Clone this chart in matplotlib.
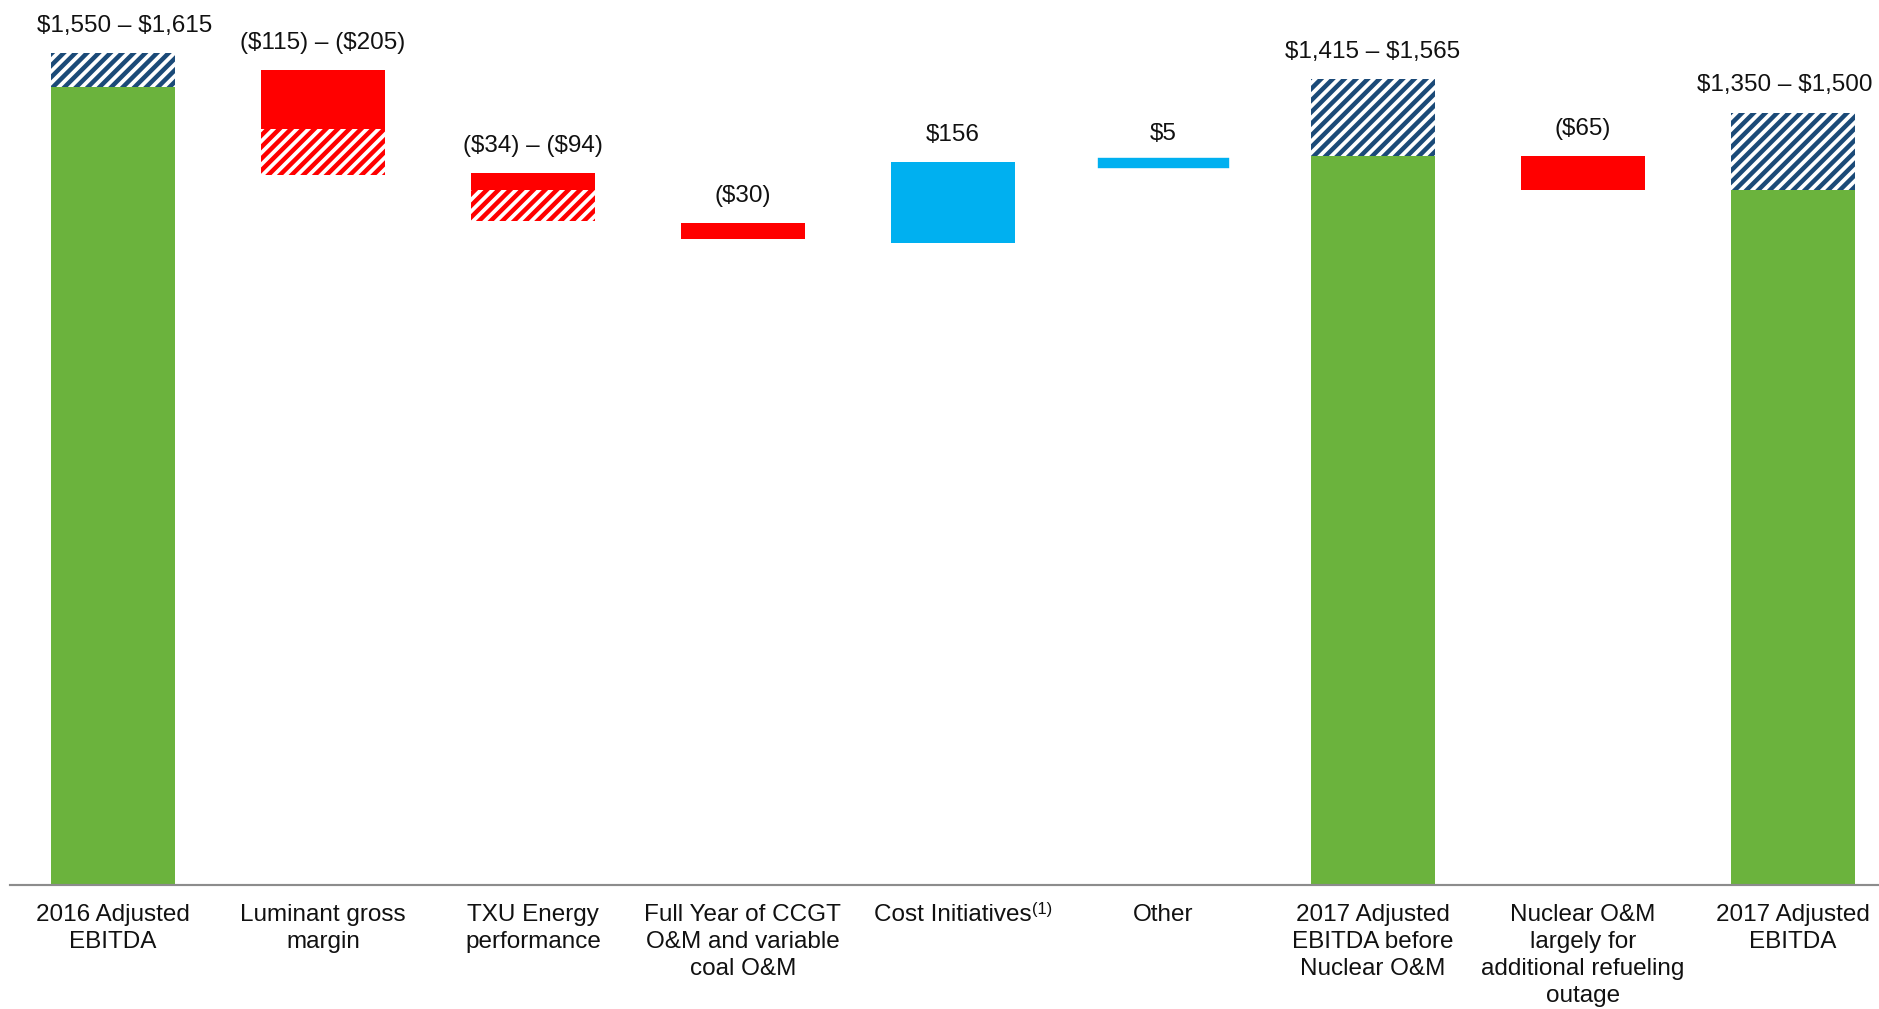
import matplotlib.pyplot as plt

plt.rcParams['font.family'] = ['Liberation Sans', 'DejaVu Sans']
plt.rcParams['hatch.linewidth'] = 2.3

categories = ['2016 Adjusted\nEBITDA', 'Luminant gross\nmargin', 'TXU Energy\nperformance',
              'Full Year of CCGT\nO&M and variable\ncoal O&M', 'Cost Initiatives', 'Other',
              '2017 Adjusted\nEBITDA before\nNuclear O&M',
              'Nuclear O&M\nlargely for\nadditional refueling\noutage',
              '2017 Adjusted\nEBITDA']
footnote_marks = {4: '(1)'}
kinds = ['total', 'down', 'down', 'down', 'up', 'up', 'total', 'down', 'total']
low = [1550, 115, 34, 30, 156, 5, 1415, 65, 1350]
high = [1615, 205, 94, 30, 156, 5, 1565, 65, 1500]
# level a step hangs from: top of a decrease, bottom of an increase
start = [0, 1583, 1383, 1285, 1247, 1400, 0, 1415, 0]

GREEN = '#6BB33D'
RED = '#FF0000'
BLUE = '#00B0F0'
NAVY = '#1B4A78'

fig = plt.figure(figsize=(1879 / 140, 1009 / 140), dpi=140)
ax = fig.add_axes([10 / 1879, 124 / 1009, 1869 / 1879, 885 / 1009])
w = 0.59


def money(v, neg=False):
    s = '\\$' + format(v, ',')
    return '(' + s + ')' if neg else s


# push the outer labels inwards a little
nudge = {0: 6, 8: -4}

for i, kind in enumerate(kinds):
    lo, hi = low[i], high[i]
    if kind == 'total':
        ax.bar(i, lo, width=w, color=GREEN, lw=0)
        ax.bar(i, hi - lo, bottom=lo, width=w, color='white', edgecolor=NAVY, hatch='////', lw=0)
        top = hi
        text = money(lo) + ' – ' + money(hi)
    elif kind == 'down':
        top = start[i]
        ax.bar(i, lo, bottom=top - lo, width=w, color=RED, lw=0)
        if hi > lo:
            ax.bar(i, hi - lo, bottom=top - hi, width=w, color='white', edgecolor=RED,
                   hatch='////', lw=0)
            text = money(lo, True) + ' – ' + money(hi, True)
        else:
            text = money(lo, True)
    else:
        # tiny steps get an outline so they stay visible
        lw = 3.8 if lo < 10 else 0
        ax.bar(i, lo, bottom=start[i], width=w, color=BLUE, edgecolor=BLUE, lw=lw)
        top = start[i] + lo
        text = money(lo)
    ax.annotate(text, xy=(i, top), xytext=(nudge.get(i, 0), 14), textcoords='offset points',
                ha='center', va='center', fontsize=12.5, color='#111111',
                annotation_clip=False)

ax.set_xlim(-0.49, 8.41)
ax.set_ylim(0, 885 / 0.515)
ax.set_xticks(range(len(categories)))
ax.set_xticklabels(categories, fontsize=12.5, linespacing=1.28, color='#111111')
ax.tick_params(axis='x', length=0, pad=10)
ax.set_yticks([])
for side in ['top', 'left', 'right']:
    ax.spines[side].set_visible(False)
ax.spines['bottom'].set_color('#8C8C8C')
ax.spines['bottom'].set_linewidth(1.1)

# superscript footnote markers after the tick label text
fig.canvas.draw()
renderer = fig.canvas.get_renderer()
for i, mark in footnote_marks.items():
    bb = ax.get_xticklabels()[i].get_window_extent(renderer)
    fig.text(bb.x1 / fig.dpi / fig.get_figwidth(), (bb.y1 + 2) / fig.dpi / fig.get_figheight(),
             mark, fontsize=8.5, color='#111111', ha='left', va='top')

fig.savefig('out.png', dpi=140)
